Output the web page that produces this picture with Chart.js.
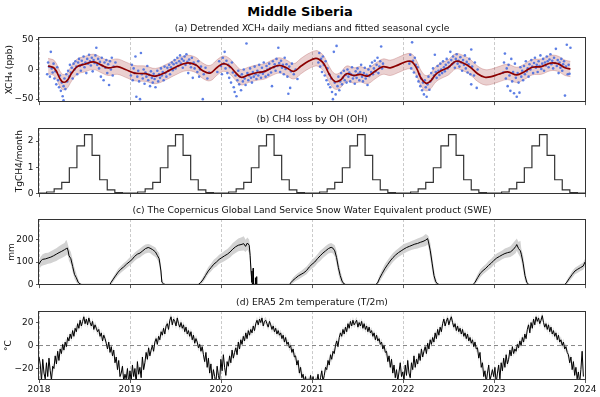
<!DOCTYPE html>
<html><head><meta charset="utf-8">
<script src="https://cdn.jsdelivr.net/npm/chart.js@4.4.1/dist/chart.umd.min.js"></script>
<style>
html,body{margin:0;padding:0;background:#fff;width:600px;height:397px;overflow:hidden;}
#title{position:absolute;left:0;top:4px;width:600px;text-align:center;font:bold 13px "DejaVu Sans";line-height:16px;color:#000;}
canvas{position:absolute;left:0;}
</style></head><body>
<div id="title">Middle Siberia</div>
<canvas id="ca" width="600" height="92" style="top:18px"></canvas>
<canvas id="cb" width="600" height="93" style="top:109px"></canvas>
<canvas id="cc" width="600" height="93" style="top:200px"></canvas>
<canvas id="cd" width="600" height="105" style="top:292px"></canvas>
<script>
// ---------- axis ticks ----------
const yearTicks = [2018,2019,2020,2021,2022,2023,2024];
const ticksA = [-50,0,50];
const ticksB = [0,1,2];
const ticksC = [0,100,200];
const ticksD = [-20,0,20];

// ---------- (a) detrended XCH4 daily medians [decimal year, ppb] ----------
const xch4Daily = [
[2018.09,-8],[2018.10,12],[2018.11,5],[2018.12,-12],[2018.13,30],[2018.14,2],[2018.15,-5],[2018.16,10],[2018.17,-15],[2018.18,-3],[2018.19,-25],[2018.20,4],[2018.21,-18],[2018.22,-30],[2018.23,-10],[2018.24,-36],[2018.25,-22],[2018.26,-45],[2018.27,-28],[2018.27,-52],[2018.28,-15],[2018.29,-33],[2018.30,-8],[2018.31,-20],[2018.32,-2],[2018.33,-12],[2018.34,8],[2018.35,-5],[2018.36,3],[2018.37,-15],[2018.38,10],[2018.39,0],[2018.40,14],[2018.41,5],[2018.42,-8],[2018.43,12],[2018.44,18],[2018.45,6],[2018.46,-2],[2018.47,15],[2018.48,9],[2018.49,22],[2018.50,4],[2018.51,12],[2018.52,-6],[2018.53,18],[2018.54,10],[2018.55,25],[2018.56,14],[2018.57,7],[2018.58,20],[2018.59,-3],[2018.60,16],[2018.61,11],[2018.62,24],[2018.63,37],[2018.64,8],[2018.65,18],[2018.66,2],[2018.67,13],[2018.68,-12],[2018.69,20],[2018.70,6],[2018.71,-18],[2018.72,12],[2018.73,3],[2018.74,16],[2018.75,-6],[2018.76,9],[2018.77,-26],[2018.78,14],[2018.79,0],[2018.80,20],[2018.81,-10],[2018.82,5],[2018.84,12],
[2019.01,-10],[2019.02,8],[2019.03,-18],[2019.04,2],[2019.05,-6],[2019.06,22],[2019.07,-46],[2019.08,-12],[2019.09,-2],[2019.10,-20],[2019.11,-50],[2019.12,28],[2019.13,-8],[2019.14,-15],[2019.15,0],[2019.16,-24],[2019.17,-5],[2019.18,-12],[2019.19,6],[2019.20,-18],[2019.21,-9],[2019.22,-28],[2019.23,-3],[2019.24,-14],[2019.25,-22],[2019.26,-7],[2019.27,-16],[2019.28,-30],[2019.29,-11],[2019.30,-2],[2019.31,-20],[2019.32,-8],[2019.33,-14],[2019.34,2],[2019.35,-10],[2019.36,-4],[2019.37,-18],[2019.38,5],[2019.39,-6],[2019.40,-12],[2019.41,3],[2019.42,-2],[2019.43,8],[2019.44,-8],[2019.45,4],[2019.46,12],[2019.47,-1],[2019.48,9],[2019.49,16],[2019.50,2],[2019.51,11],[2019.52,20],[2019.53,6],[2019.54,14],[2019.55,24],[2019.56,10],[2019.57,18],[2019.58,3],[2019.59,15],[2019.60,22],[2019.61,8],[2019.62,26],[2019.63,13],[2019.64,-6],[2019.65,17],[2019.66,10],[2019.67,4],[2019.68,20],[2019.69,-14],[2019.70,12],[2019.71,2],[2019.72,8],[2019.74,-4],[2019.75,14],[2019.76,-12],[2019.77,0],[2019.78,5],[2019.80,-50],[2019.81,-8],[2019.83,3],[2019.85,-15],[2019.87,-5],
[2019.96,-4],[2019.98,14],[2020.00,6],[2020.01,-8],[2020.02,20],[2020.03,10],[2020.04,30],[2020.05,2],[2020.06,15],[2020.07,-6],[2020.08,8],[2020.09,-14],[2020.10,4],[2020.11,-22],[2020.12,12],[2020.13,-5],[2020.14,-30],[2020.15,-38],[2020.16,-10],[2020.17,-45],[2020.18,-18],[2020.19,-2],[2020.20,-25],[2020.21,-12],[2020.22,-35],[2020.23,-8],[2020.24,-20],[2020.25,0],[2020.26,-15],[2020.27,-26],[2020.28,44],[2020.29,-6],[2020.30,-18],[2020.31,-10],[2020.32,2],[2020.33,-14],[2020.34,-22],[2020.35,-4],[2020.36,-12],[2020.37,5],[2020.38,-8],[2020.39,-16],[2020.40,-2],[2020.41,-10],[2020.42,8],[2020.43,-5],[2020.44,-14],[2020.45,3],[2020.46,-7],[2020.47,12],[2020.48,-3],[2020.49,-12],[2020.50,6],[2020.51,0],[2020.52,-9],[2020.53,10],[2020.54,2],[2020.55,-5],[2020.56,-28],[2020.57,14],[2020.58,4],[2020.59,9],[2020.60,-2],[2020.61,18],[2020.62,6],[2020.63,37],[2020.64,11],[2020.65,-4],[2020.66,15],[2020.67,3],[2020.68,8],[2020.69,-8],[2020.70,20],[2020.71,1],[2020.72,9],[2020.73,-12],[2020.74,-41],[2020.75,5],[2020.76,-31],[2020.77,-3],[2020.78,10],[2020.80,-8],[2020.82,0],[2020.84,-16],
[2021.07,12],[2021.08,28],[2021.09,5],[2021.10,18],[2021.11,-4],[2021.12,22],[2021.13,8],[2021.14,-10],[2021.15,14],[2021.16,-18],[2021.17,2],[2021.18,-25],[2021.19,-8],[2021.20,-30],[2021.21,-15],[2021.22,-38],[2021.23,-50],[2021.24,30],[2021.25,-22],[2021.26,-42],[2021.27,40],[2021.28,-28],[2021.29,-12],[2021.30,-35],[2021.31,-20],[2021.32,-6],[2021.33,-25],[2021.34,-14],[2021.35,-2],[2021.36,-18],[2021.37,-9],[2021.38,-22],[2021.39,0],[2021.40,-12],[2021.41,-5],[2021.42,-20],[2021.43,-8],[2021.44,4],[2021.45,-15],[2021.46,-10],[2021.47,-24],[2021.48,-3],[2021.49,-14],[2021.50,2],[2021.51,-7],[2021.52,-18],[2021.53,-4],[2021.54,8],[2021.55,-12],[2021.56,-20],[2021.57,-6],[2021.58,3],[2021.59,-15],[2021.60,-9],[2021.61,-26],[2021.62,0],[2021.63,-11],[2021.64,6],[2021.65,-4],[2021.66,12],[2021.67,-8],[2021.68,2],[2021.69,15],[2021.70,-3],[2021.71,8],[2021.72,20],[2021.73,-6],[2021.74,5],[2021.75,14],[2021.76,39],[2021.77,2],[2021.78,10],
[2022.07,10],[2022.08,25],[2022.09,2],[2022.10,46],[2022.11,15],[2022.12,-5],[2022.13,20],[2022.14,8],[2022.15,-12],[2022.16,4],[2022.17,-20],[2022.18,-8],[2022.19,-28],[2022.20,-15],[2022.21,-35],[2022.22,-22],[2022.23,-42],[2022.24,-18],[2022.25,-30],[2022.26,-46],[2022.27,-25],[2022.28,-12],[2022.29,-34],[2022.30,-20],[2022.31,-6],[2022.32,-16],[2022.33,2],[2022.34,-10],[2022.35,25],[2022.36,-4],[2022.37,-14],[2022.38,6],[2022.39,-2],[2022.40,-9],[2022.41,10],[2022.42,0],[2022.43,-6],[2022.44,14],[2022.45,4],[2022.46,-3],[2022.47,8],[2022.48,18],[2022.49,2],[2022.50,12],[2022.51,5],[2022.52,30],[2022.53,16],[2022.54,9],[2022.55,22],[2022.56,12],[2022.57,3],[2022.58,18],[2022.59,26],[2022.60,10],[2022.61,15],[2022.62,5],[2022.63,21],[2022.64,12],[2022.65,-2],[2022.66,16],[2022.67,8],[2022.68,24],[2022.69,2],[2022.70,13],[2022.71,-5],[2022.72,9],[2022.73,18],[2022.74,-8],[2022.75,34],[2022.75,-25],[2022.76,5],[2022.78,-10],[2022.79,12],[2022.81,-31],[2022.82,0],
[2023.10,-5],[2023.11,12],[2023.12,27],[2023.13,-15],[2023.14,2],[2023.15,-28],[2023.16,8],[2023.17,-10],[2023.18,-36],[2023.19,18],[2023.20,-20],[2023.21,-4],[2023.22,-40],[2023.23,10],[2023.24,-14],[2023.25,-46],[2023.26,-6],[2023.27,-22],[2023.28,-39],[2023.29,4],[2023.30,-12],[2023.31,-2],[2023.32,-18],[2023.33,6],[2023.34,-8],[2023.35,14],[2023.36,-3],[2023.37,2],[2023.38,-12],[2023.39,9],[2023.40,0],[2023.41,16],[2023.42,5],[2023.43,-6],[2023.44,11],[2023.45,20],[2023.46,3],[2023.47,8],[2023.48,-4],[2023.49,14],[2023.50,6],[2023.51,24],[2023.52,1],[2023.53,10],[2023.54,18],[2023.55,-2],[2023.56,12],[2023.57,7],[2023.58,22],[2023.59,14],[2023.60,4],[2023.61,17],[2023.62,26],[2023.63,9],[2023.64,15],[2023.65,2],[2023.66,20],[2023.67,11],[2023.68,35],[2023.69,6],[2023.70,16],[2023.71,-6],[2023.72,12],[2023.73,3],[2023.74,18],[2023.75,-2],[2023.76,9],[2023.77,14],[2023.78,-44],[2023.79,5],[2023.80,42],[2023.81,-8],[2023.82,8],[2023.83,-7],[2023.84,37]
];

// fitted seasonal cycle and its uncertainty half-width (ppb)
const fitX = [2018.10,2018.17,2018.25,2018.30,2018.36,2018.42,2018.50,2018.60,2018.68,2018.76,2018.86,2018.95,2019.05,2019.17,2019.28,2019.40,2019.50,2019.62,2019.72,2019.80,2019.88,2019.96,2020.03,2020.10,2020.16,2020.22,2020.30,2020.40,2020.48,2020.56,2020.64,2020.72,2020.80,2020.88,2020.96,2021.04,2021.08,2021.13,2021.19,2021.25,2021.31,2021.38,2021.46,2021.53,2021.61,2021.70,2021.78,2021.86,2021.95,2022.05,2022.10,2022.15,2022.20,2022.25,2022.30,2022.36,2022.42,2022.50,2022.58,2022.66,2022.74,2022.82,2022.90,2022.97,2023.05,2023.15,2023.25,2023.33,2023.42,2023.52,2023.62,2023.70,2023.78,2023.84];
const fitY = [6,2,-20,-20,-6,5,9,13,8,3,5,0,-6,-7,-11,-4,4,11,8,-2,-6,4,10,5,-5,-13,-9,-5,-3,3,7,3,-3,6,14,19,17,10,-8,-20,-18,-7,-10,-8,-11,-2,5,3,8,14,13,2,-15,-23,-20,-8,-2,4,14,11,4,-7,-13,-12,-8,-4,-9,-4,4,5,11,10,3,1];
const FIT_UNC = 13;

// ---------- (b) CH4 loss by OH, monthly (TgCH4/month), Jan 2018 .. Dec 2023 ----------
const ohMonthly = [
0.01,0.05,0.17,0.42,0.98,1.82,2.25,1.45,0.52,0.13,0.03,0.01,
0.01,0.05,0.17,0.42,0.98,1.82,2.25,1.45,0.52,0.13,0.03,0.01,
0.01,0.05,0.17,0.42,0.98,1.82,2.25,1.45,0.52,0.13,0.03,0.01,
0.01,0.05,0.17,0.42,0.98,1.82,2.25,1.45,0.52,0.13,0.03,0.01,
0.01,0.05,0.17,0.42,0.98,1.82,2.25,1.45,0.52,0.13,0.03,0.01,
0.01,0.05,0.17,0.42,0.98,1.82,2.25,1.45,0.52,0.13,0.03,0.01
];

// ---------- (c) Snow water equivalent (mm): date, value, lower, upper ----------
const sweX  = [2018.00,2018.02,2018.04,2018.07,2018.10,2018.13,2018.16,2018.19,2018.22,2018.25,2018.28,2018.30,2018.31,2018.32,2018.33,2018.35,2018.37,2018.39,2018.41,2018.43,2018.45,2018.47,
 2018.78,2018.79,2018.81,2018.84,2018.87,2018.90,2018.93,2018.96,2018.99,2019.02,2019.05,2019.08,2019.11,2019.14,2019.17,2019.20,2019.22,2019.25,2019.28,2019.30,2019.32,2019.34,2019.35,2019.37,2019.39,
 2019.75,2019.77,2019.80,2019.83,2019.86,2019.89,2019.92,2019.95,2019.98,2020.01,2020.04,2020.07,2020.10,2020.13,2020.16,2020.19,2020.22,2020.25,2020.27,2020.29,2020.31,2020.32,2020.33,2020.34,2020.350,2020.353,2020.357,2020.374,2020.377,2020.380,2020.388,2020.391,2020.394,2020.40,
 2020.75,2020.77,2020.79,2020.82,2020.85,2020.88,2020.91,2020.94,2020.97,2021.00,2021.03,2021.06,2021.09,2021.12,2021.15,2021.18,2021.21,2021.23,2021.25,2021.27,2021.29,2021.31,2021.33,2021.35,2021.37,
 2021.70,2021.72,2021.74,2021.77,2021.80,2021.83,2021.86,2021.89,2021.92,2021.95,2021.98,2022.01,2022.04,2022.07,2022.10,2022.13,2022.16,2022.19,2022.22,2022.25,2022.27,2022.28,2022.30,2022.32,2022.34,2022.36,2022.38,2022.40,
 2022.77,2022.79,2022.82,2022.85,2022.88,2022.91,2022.94,2022.97,2023.00,2023.03,2023.06,2023.09,2023.12,2023.15,2023.18,2023.21,2023.24,2023.25,2023.27,2023.29,2023.30,2023.32,2023.34,2023.36,2023.38,
 2023.78,2023.80,2023.83,2023.86,2023.89,2023.92,2023.95,2023.98,2024.00];
const sweVal = [90,105,112,114,118,122,128,135,142,148,155,160,163,150,128,115,80,45,30,10,2,0,
 0,8,20,38,55,68,78,90,100,110,125,135,140,150,160,165,162,155,145,130,115,60,10,2,0,
 0,5,20,40,60,75,90,100,112,120,128,135,145,158,168,175,178,182,170,185,175,130,60,10,0,72,0,0,30,0,0,35,0,0,
 0,8,18,28,38,45,52,62,78,90,100,115,128,140,150,160,166,162,150,120,75,40,15,3,0,
 0,6,25,48,70,88,105,120,132,142,150,158,165,170,175,180,183,188,192,198,205,190,150,95,40,12,2,0,
 0,8,30,50,62,72,85,95,108,118,125,132,138,142,145,155,170,178,160,150,135,95,40,10,0,
 0,10,28,45,60,68,75,82,100];
const sweLo  = [65,80,85,88,92,95,100,105,112,118,125,130,135,125,105,90,55,25,10,0,0,0,
 0,0,8,25,40,52,62,72,82,92,105,115,120,130,138,142,140,130,122,110,92,30,0,0,0,
 0,0,8,25,45,58,72,80,92,98,105,112,120,132,140,148,150,152,145,155,140,90,20,0,0,40,0,0,10,0,0,15,0,0,
 0,0,5,15,22,30,38,45,60,70,80,95,105,118,128,138,142,138,125,90,45,15,0,0,0,
 0,0,10,30,50,68,85,100,112,122,130,138,145,150,155,158,160,165,168,172,178,165,115,60,15,0,0,0,
 0,0,15,32,45,55,65,75,88,98,105,112,118,120,122,130,140,150,135,120,105,60,15,0,0,
 0,0,15,30,45,52,60,65,80];
const sweHi  = [110,125,135,140,142,148,155,162,170,178,185,200,190,175,160,145,110,75,50,25,8,0,
 2,15,30,50,70,82,95,105,118,128,142,152,160,170,178,180,178,172,165,150,140,90,30,8,0,
 0,12,32,55,78,92,110,120,132,140,150,158,170,185,195,205,210,215,200,210,200,165,100,40,10,80,5,5,40,5,5,40,5,0,
 0,18,30,42,52,60,70,80,95,110,120,135,150,160,172,180,185,180,175,150,105,65,35,10,0,
 0,15,40,65,90,108,125,140,152,162,172,180,185,190,195,200,205,210,215,225,220,215,185,130,70,30,8,0,
 0,20,45,68,80,90,105,115,128,138,145,152,160,165,170,185,200,205,190,195,160,130,70,25,0,
 0,20,40,60,75,82,90,98,115];

// ---------- (d) ERA5 2 m temperature (degC), one value every 5 days from 1 Jan 2018 ----------
const t2mStepDays = 5;
const t2mValues = [
-10,-16,-31,-12,-24,-29, -15,-27,-11,-22,-30,-18, -20,-9,-16,-5,-13,-3, -7,1,-4,3,-1,7, 4,10,6,13,8,15, 12,19,15,22,17,21, 25,19,23,18,24,20, 17,21,14,18,15,12, 14,8,11,4,9,6, 2,-3,3,-6,-1,-9, -4,-15,-10,-21,-13,-27, -24,-18,-31,-25,-29,-20,-33,
-22,-31,-17,-27,-20,-33, -14,-25,-19,-28,-10,-21, -15,-6,-12,-2,-9,-4, 0,-5,3,6,1,8, 5,12,9,15,10,17, 19,14,22,25,18,23, 21,17,24,19,16,20, 15,18,12,16,10,13, 8,12,5,9,2,6, 3,-2,1,-5,-1,-8, -14,-6,-19,-11,-24,-16, -30,-21,-27,-33,-18,-26,-31,
-12,-22,-8,-19,-26,-14, -18,-9,-15,-4,-11,-6, -2,-8,3,-3,5,1, 8,4,11,6,13,9, 14,11,17,13,19,22, 18,23,20,24,17,21, 22,19,16,21,18,14, 17,12,15,10,13,9, 11,6,9,3,7,1, 3,-2,0,-6,-3,-10, -9,-17,-13,-24,-19,-28, -25,-32,-27,-35,-29,-33,-26,
-33,-27,-36,-29,-31,-25, -34,-28,-22,-31,-26,-19, -21,-13,-17,-8,-12,-5, -7,0,4,-1,7,11, 8,14,10,16,12,19, 15,21,17,22,18,20, 22,16,20,17,21,15, 19,14,17,12,16,11, 13,8,11,5,9,4, 6,1,3,-3,0,-6, -5,-14,-9,-19,-12,-24, -17,-28,-21,-31,-23,-15,-27,
-23,-30,-17,-26,-13,-24, -28,-15,-21,-9,-19,-12, -16,-7,-13,-3,-10,-5, -1,-7,2,-3,5,1, 7,3,11,6,14,9, 16,12,19,23,17,21, 24,18,22,25,20,16, 19,13,17,12,15,10, 14,8,11,6,10,4, 7,2,5,-1,3,-3, -2,-11,-6,-19,-15,-27, -22,-32,-24,-17,-30,-26,-21,
-27,-19,-33,-24,-17,-29, -15,-22,-11,-19,-8,-16, -12,-4,-9,-1,-7,-3, -5,1,-2,4,0,7, 3,10,6,14,18,11, 20,15,23,18,25,21, 24,19,22,26,20,16, 19,14,18,12,16,10, 13,8,11,5,9,3, 5,0,3,-3,-1,-6, -8,-15,-10,-21,-14,-26, -19,-29,-23,-33,-21,-5,-27
];
const T2M_SPREAD = 3;

// ---------- build tables for the library ----------
const FONT = '"DejaVu Sans", sans-serif';
const pts = (xs, ys) => xs.map((x, i) => ({x, y: ys[i]}));
const fitLine = pts(fitX, fitY);
const fitLo = pts(fitX, fitY.map(v => v - FIT_UNC));
const fitHi = pts(fitX, fitY.map(v => v + FIT_UNC));
const scatterA = xch4Daily.map(p => ({x: p[0], y: p[1]}));
const ohStep = ohMonthly.map((v, i) => ({x: 2018 + i / 12, y: v}));
ohStep.push({x: 2024, y: ohMonthly[ohMonthly.length - 1]});
const sweLine = pts(sweX, sweVal), sweLower = pts(sweX, sweLo), sweUpper = pts(sweX, sweHi);
const t2mX = t2mValues.map((v, i) => 2018 + i * t2mStepDays / 365.25);
const t2mLine = pts(t2mX, t2mValues);
const t2mLo = pts(t2mX, t2mValues.map(v => v - T2M_SPREAD));
const t2mHi = pts(t2mX, t2mValues.map(v => v + T2M_SPREAD));
const zeroLine = [{x: 2018, y: 0}, {x: 2024, y: 0}];

const framePlugin = {id: 'frame', afterDraw(c) {
  const a = c.chartArea, ctx = c.ctx;
  ctx.save(); ctx.strokeStyle = '#333'; ctx.lineWidth = 1;
  ctx.strokeRect(Math.round(a.left) - 0.5, Math.round(a.top) + 0.5, Math.round(a.right - a.left) + 1, Math.round(a.bottom - a.top) - 1);
  ctx.restore();
}};
const fmt = v => v < 0 ? '\u2212' + Math.abs(v) : String(v);

function makeOptions(o) {
  return {
    responsive: false, animation: false, events: [],
    layout: {padding: {left: 0, right: 15, top: 0, bottom: 0}},
    elements: {point: {radius: 0}},
    plugins: {
      legend: {display: false}, tooltip: {enabled: false},
      title: {display: true, text: o.title, fullSize: false, color: '#111',
              font: {family: FONT, size: 9.2, weight: 'normal'}, padding: {top: 5, bottom: 3}}
    },
    scales: {
      x: {type: 'linear', min: 2018, max: 2024,
          afterBuildTicks: s => { s.ticks = yearTicks.map(v => ({value: v})); },
          afterFit: s => { s.height = o.xh; },
          ticks: {display: o.xlabels, color: '#111', font: {family: FONT, size: 9}, padding: 1,
                  maxRotation: 0, autoSkip: false, callback: v => String(v)},
          grid: {color: '#bdbdbd', lineWidth: 0.8, drawTicks: true, tickLength: 3, tickColor: '#333', tickWidth: 0.8, tickBorderDash: []},
          border: {display: false, dash: [3, 2]}},
      y: {type: 'linear', min: o.ymin, max: o.ymax,
          afterBuildTicks: s => { s.ticks = o.yticks.map(v => ({value: v})); },
          afterFit: s => { s.width = 39; },
          ticks: {color: '#111', font: {family: FONT, size: 9}, padding: 2.5, callback: fmt},
          grid: {drawOnChartArea: false, drawTicks: true, tickLength: 3, tickColor: '#333', tickWidth: 0.8},
          border: {display: false},
          title: {display: true, text: o.ytitle, color: '#111', font: {family: FONT, size: 9}, padding: {top: o.ytp, bottom: 0}}}
    }
  };
}

new Chart(document.getElementById('ca'), {
  type: 'line',
  data: {datasets: [
    {data: fitLine, borderColor: '#8b0000', borderWidth: 1.7, tension: 0.4, order: 0},
    {data: scatterA, showLine: false, pointRadius: 1.3, pointBorderWidth: 0, pointBackgroundColor: 'rgba(65,105,225,0.85)', order: 1},
    {data: fitLo, borderColor: 'rgba(139,0,0,0.25)', borderWidth: 0.8, tension: 0.4, order: 3},
    {data: fitHi, borderColor: 'rgba(139,0,0,0.25)', borderWidth: 0.8, tension: 0.4, fill: '-1', backgroundColor: 'rgba(160,40,40,0.22)', order: 2}
  ]},
  options: makeOptions({title: '(a) Detrended XCH\u2084 daily medians and fitted seasonal cycle', xh: 4, xlabels: false,
    ymin: -55, ymax: 55, yticks: ticksA, ytitle: 'XCH\u2084 (ppb)', ytp: 4}),
  plugins: [framePlugin]
});

new Chart(document.getElementById('cb'), {
  type: 'line',
  data: {datasets: [
    {data: ohStep, borderColor: '#333', borderWidth: 1.2, stepped: 'before'}
  ]},
  options: makeOptions({title: '(b) CH4 loss by OH (OH)', xh: 4, xlabels: false,
    ymin: -0.03, ymax: 2.5, yticks: ticksB, ytitle: 'TgCH4/month', ytp: 14}),
  plugins: [framePlugin]
});

new Chart(document.getElementById('cc'), {
  type: 'line',
  data: {datasets: [
    {data: sweLine, borderColor: '#000', borderWidth: 1, order: 0},
    {data: sweLower, borderColor: 'rgba(0,0,0,0)', borderWidth: 0, order: 2},
    {data: sweUpper, borderColor: 'rgba(0,0,0,0)', borderWidth: 0, fill: '-1', backgroundColor: '#d2d2d2', order: 1}
  ]},
  options: makeOptions({title: '(c) The Copernicus Global Land Service Snow Water Equivalent product (SWE)', xh: 4, xlabels: false,
    ymin: -3, ymax: 292, yticks: ticksC, ytitle: 'mm', ytp: 6}),
  plugins: [framePlugin]
});

new Chart(document.getElementById('cd'), {
  type: 'line',
  data: {datasets: [
    {data: t2mLine, borderColor: '#000', borderWidth: 1, order: 0},
    {data: zeroLine, borderColor: '#888', borderWidth: 1, borderDash: [4, 3], order: 1},
    {data: t2mLo, borderColor: 'rgba(0,0,0,0)', borderWidth: 0, order: 3},
    {data: t2mHi, borderColor: 'rgba(0,0,0,0)', borderWidth: 0, fill: '-1', backgroundColor: '#dcdcdc', order: 2}
  ]},
  options: makeOptions({title: '(d) ERA5 2m temperature (T/2m)', xh: 17, xlabels: true,
    ymin: -30, ymax: 30, yticks: ticksD, ytitle: '\u00b0C', ytp: 3}),
  plugins: [framePlugin]
});
</script>
</body></html>
